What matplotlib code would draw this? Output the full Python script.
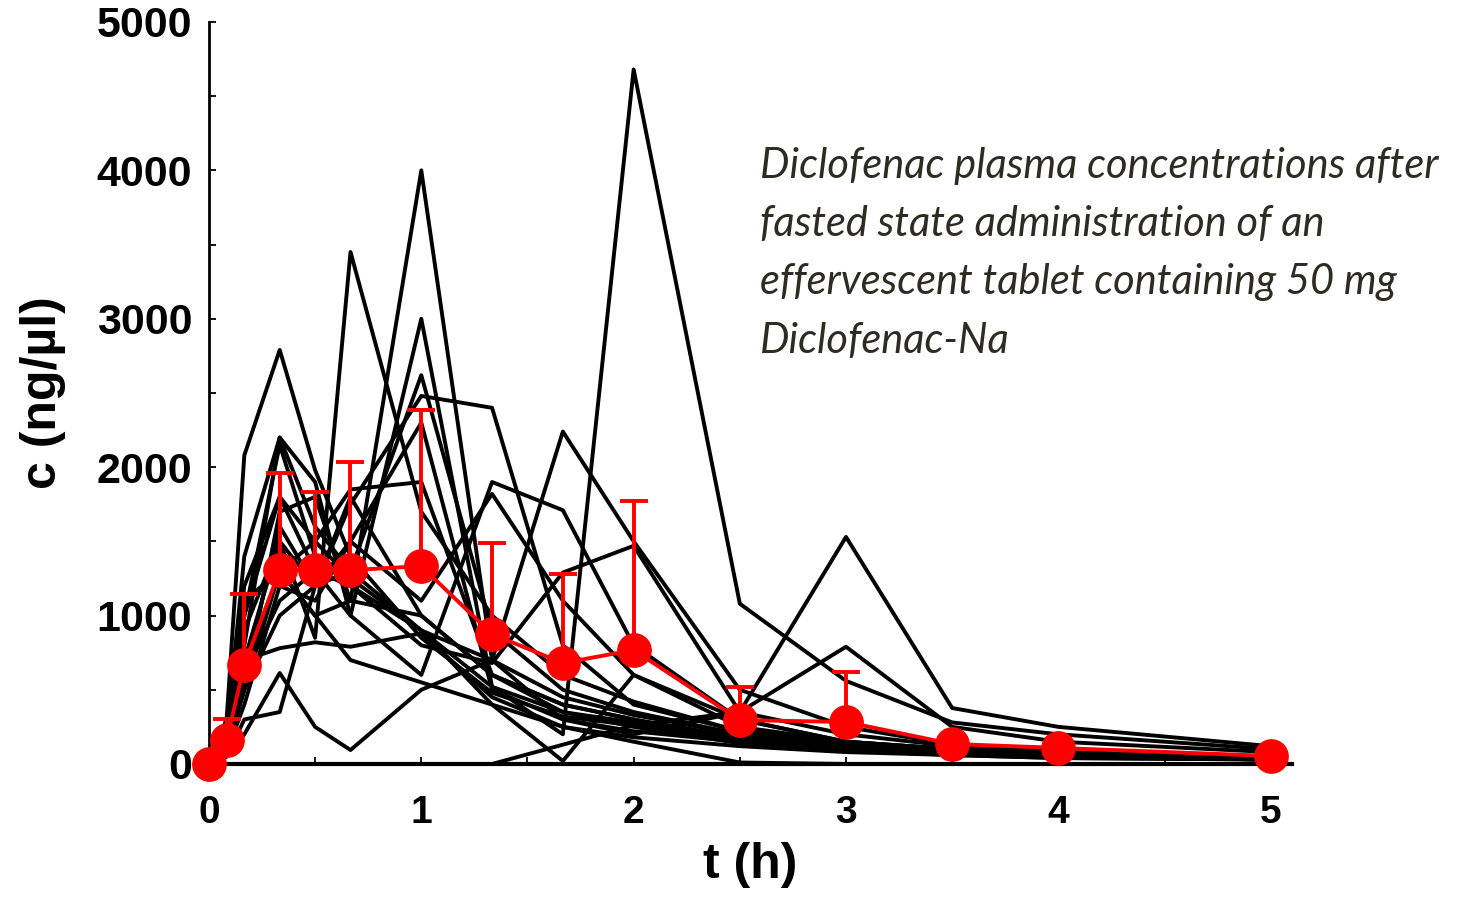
# Diclofenac plasma profiles: individual subjects plus mean +SD.

import numpy as np
import matplotlib.pyplot as plt

# sampling times (h)
t = [0, 1/12, 1/6, 1/3, 0.5, 2/3, 1, 4/3, 5/3, 2, 2.5, 3, 3.5, 4, 5]

# individual subjects (ng/ul)
s01 = [0, 120, 500, 1300, 1500, 1250, 900, 520, 200, 4680, 1080, 560, 280, 200, 100]
s02 = [0, 300, 2080, 2790, 1980, 1400, 850, 480, 320, 260, 160, 110, 80, 60, 40]
s03 = [0, 150, 900, 1500, 850, 3450, 1700, 1000, 600, 420, 220, 150, 100, 70, 40]
s04 = [0, 100, 600, 1300, 1000, 1100, 4000, 700, 450, 330, 200, 130, 90, 60, 40]
s05 = [0, 200, 1000, 1800, 1300, 1000, 3000, 520, 350, 280, 170, 110, 70, 50, 30]
s06 = [0, 150, 800, 2200, 1600, 1300, 2620, 900, 500, 350, 200, 130, 90, 60, 40]
s07 = [0, 100, 700, 1500, 1200, 1750, 2480, 2400, 800, 400, 220, 140, 100, 70, 40]
s08 = [0, 200, 1400, 2200, 1900, 1000, 600, 1900, 1710, 800, 300, 150, 100, 70, 40]
s09 = [0, 80, 400, 1200, 1100, 1500, 1100, 1820, 1100, 600, 250, 150, 100, 70, 40]
s10 = [0, 100, 500, 1000, 1200, 1300, 900, 700, 2240, 1500, 500, 250, 130, 80, 50]
s11 = [0, 100, 600, 1100, 1300, 1200, 800, 680, 1290, 1470, 350, 200, 120, 80, 50]
s12 = [0, 50, 200, 613, 250, 94, 500, 700, 300, 200, 350, 1530, 377, 250, 120]
s13 = [0, 0, 0, 0, 0, 0, 0, 0, 130, 260, 350, 790, 250, 150, 80]
s14 = [0, 150, 700, 780, 820, 790, 880, 450, 250, 180, 120, 80, 60, 40, 30]
s15 = [0, 200, 1200, 1800, 1500, 1850, 1900, 600, 400, 300, 150, 100, 70, 50, 30]
s16 = [0, 150, 1000, 2150, 1400, 1200, 900, 400, 20, 600, 300, 150, 90, 60, 40]
s17 = [0, 100, 500, 1700, 1800, 1100, 1000, 600, 400, 300, 180, 120, 80, 60, 40]
s18 = [0, 100, 600, 1600, 1200, 1500, 2300, 500, 300, 220, 150, 100, 70, 50, 30]
s19 = [0, 300, 1100, 1300, 1000, 700, 550, 400, 250, 150, 10, 0, 0, 0, 0]
s20 = [0, 50, 300, 350, 1200, 1800, 1000, 600, 350, 250, 140, 90, 60, 40, 30]
subjects = [s01, s02, s03, s04, s05, s06, s07, s08, s09, s10,
            s11, s12, s13, s14, s15, s16, s17, s18, s19, s20]

# mean and upper SD
mean_c = [0, 162, 667, 1306, 1306, 1306, 1333, 875, 680, 768, 296, 283, 135, 108, 54]
sd_c = [0, 141, 478, 654, 526, 728, 1051, 613, 600, 1003, 223, 337, 0, 0, 0]

plt.rcParams['font.family'] = ['Liberation Sans', 'DejaVu Sans']

fig = plt.figure(figsize=(14.59, 8.97), dpi=100)
ax = fig.add_axes([0.1432, 0.1483, 0.7423, 0.8272])

for s in subjects:
    ax.plot(t, s, color='black', lw=2.8, zorder=2)

ax.errorbar(t, mean_c, yerr=[np.zeros(len(sd_c)), sd_c], color='red', lw=2.8,
            marker='o', ms=24, elinewidth=2.8, capsize=10, capthick=2.8,
            zorder=5, clip_on=False)

ax.set_xlim(0, 5.1)
ax.set_ylim(0, 5000)
ax.set_xticks([0, 1, 2, 3, 4, 5])
ax.set_xticks([0.5, 1.5, 2.5, 3.5, 4.5], minor=True)
ax.set_yticks([0, 1000, 2000, 3000, 4000, 5000])
ax.set_yticks([500, 1500, 2500, 3500, 4500], minor=True)

for side in ['top', 'right']:
    ax.spines[side].set_visible(False)
ax.spines['left'].set_linewidth(2)
ax.spines['bottom'].set_linewidth(3)

ax.tick_params(which='both', direction='in', length=5, width=1.3)
ax.tick_params(axis='y', which='major', pad=12)
ax.tick_params(axis='x', which='major', pad=22)
for lab in ax.get_xticklabels():
    lab.set_fontsize(28)
    lab.set_fontweight('bold')
for lab in ax.get_yticklabels():
    lab.set_fontsize(31)
    lab.set_fontweight('bold')

ax.set_xlabel('t (h)', fontsize=36, fontweight='bold', labelpad=8)
ax.set_ylabel('c (ng/µl)', fontsize=36, fontweight='bold', labelpad=22)

fig.text(0.521, 0.836,
         'Diclofenac plasma concentrations after\n'
         'fasted state administration of an\n'
         'effervescent tablet containing 50 mg\n'
         'Diclofenac-Na',
         fontsize=30, style='italic', color='#2e2b22', va='top', ha='left',
         linespacing=1.65, family=['Lato', 'Liberation Sans'])

fig.savefig('out.png', dpi=100)
